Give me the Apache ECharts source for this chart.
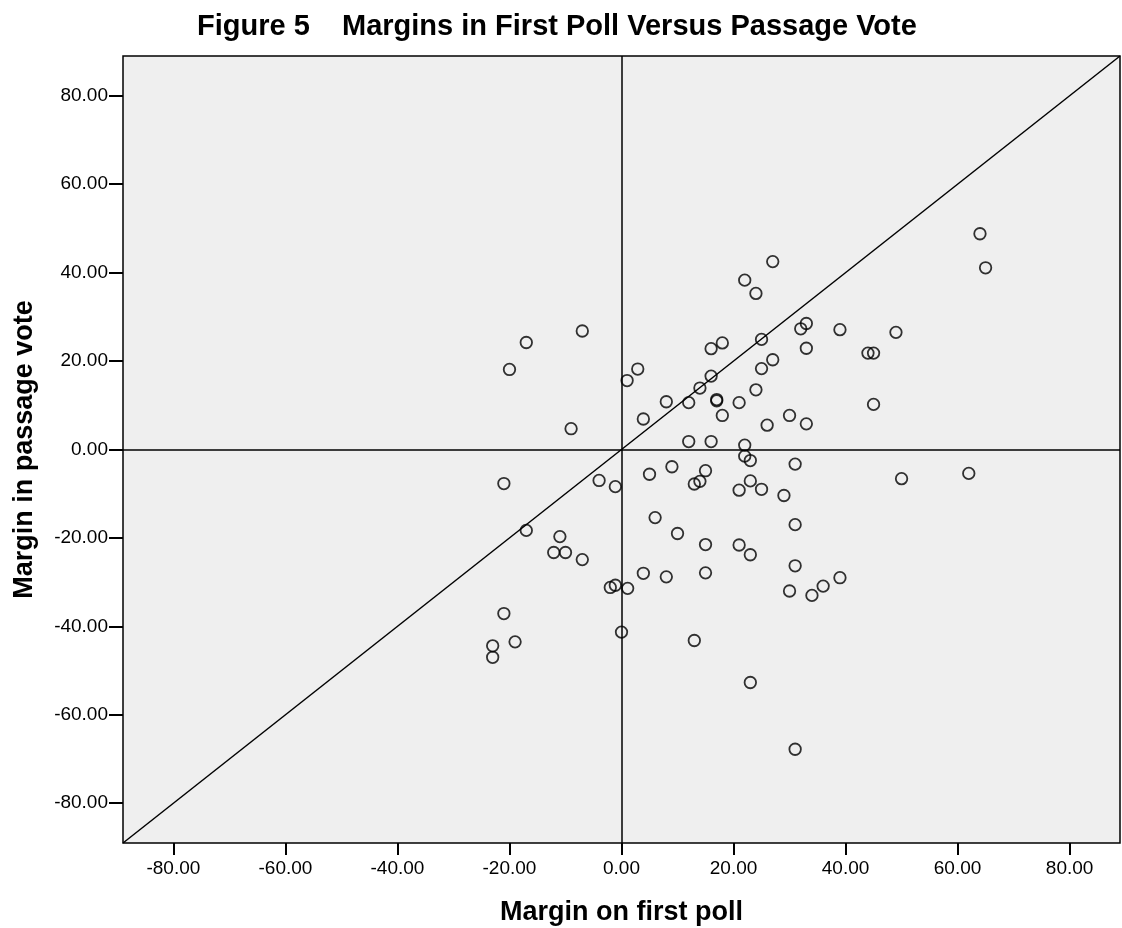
<!DOCTYPE html>
<html>
<head>
<meta charset="utf-8">
<script src="https://cdn.jsdelivr.net/npm/echarts@6/dist/echarts.min.js"></script>
<style>
  html, body { margin: 0; padding: 0; background: #ffffff; }
  #chart { width: 1122px; height: 928px; }
</style>
</head>
<body>
<div id="chart"></div>
<script>
// Margin on first poll (x) and margin in the passage vote (y), one entry per case
const firstPollMargin = [
  -7.0, -17.0, -20.0, -9.0, -21.0, -4.0, -1.1, -17.0, -11.0, -12.1,
  -10.0, -7.0, -2.0, -1.1, -21.0, -19.0, -23.0, -23.0, 0.0, 1.1,
  3.9, 1.0, 2.9, 3.9, 27.0, 22.0, 24.0, 32.0, 33.0, 25.0,
  18.0, 16.0, 27.0, 25.0, 16.0, 14.0, 24.0, 8.0, 12.0, 17.0,
  17.0, 21.0, 18.0, 30.0, 26.0, 12.0, 16.0, 22.0, 22.0, 23.0,
  31.0, 5.0, 9.0, 15.0, 14.0, 13.0, 23.0, 21.0, 25.0, 29.0,
  6.0, 10.0, 15.0, 21.0, 23.0, 31.0, 8.0, 15.0, 31.0, 30.0,
  13.0, 23.0, 65.0, 64.0, 39.0, 49.0, 33.0, 44.0, 45.0, 45.0,
  33.0, 50.0, 62.0, 34.0, 36.0, 39.0, 31.0
];
const passageVoteMargin = [
  26.8, 24.2, 18.1, 4.7, -7.7, -7.0, -8.4, -18.3, -19.7, -23.3,
  -23.3, -24.9, -31.2, -30.7, -37.1, -43.5, -44.4, -47.0, -41.3, -31.4,
  -28.0, 15.6, 18.2, 6.9, 42.5, 38.3, 35.3, 27.3, 28.5, 24.9,
  24.1, 22.8, 20.3, 18.3, 16.6, 13.9, 13.5, 10.8, 10.6, 11.3,
  11.0, 10.6, 7.7, 7.7, 5.5, 1.8, 1.8, 1.0, -1.5, -2.5,
  -3.3, -5.6, -3.9, -4.8, -7.2, -7.8, -7.1, -9.2, -9.0, -10.4,
  -15.4, -19.0, -21.5, -21.6, -23.8, -17.0, -28.8, -27.9, -26.3, -32.0,
  -43.2, -52.7, 41.1, 48.8, 27.1, 26.5, 22.9, 21.8, 21.8, 10.2,
  5.8, -6.6, -5.4, -33.0, -30.9, -29.0, -67.8
];

// Axis extent and labelled tick values
const axisMin = -89;
const axisMax = 89;
const tickValues = [-80, -60, -40, -20, 0, 20, 40, 60, 80];
// Equal-margin diagonal (y = x) across the full axis extent
const diagonalEnds = [axisMin, axisMax];

const points = firstPollMargin.map((x, i) => [x, passageVoteMargin[i]]);

const FONT = 'Liberation Sans, Arial, Helvetica, sans-serif';

function makeAxis(name, nameGap, tickLen, labelMargin) {
  return {
    type: 'value',
    min: axisMin,
    max: axisMax,
    name: name,
    nameLocation: 'middle',
    nameGap: nameGap,
    nameTextStyle: { fontFamily: FONT, fontWeight: 'bold', fontSize: 27, color: '#000' },
    axisLine: { show: false, onZero: false },
    axisTick: {
      show: true,
      length: tickLen,
      inside: false,
      customValues: tickValues,
      lineStyle: { color: '#000', width: 2 }
    },
    axisLabel: {
      customValues: tickValues,
      formatter: v => v.toFixed(2),
      margin: labelMargin,
      fontFamily: FONT,
      fontSize: 19,
      color: '#000'
    },
    splitLine: { show: false }
  };
}

const chart = echarts.init(document.getElementById('chart'), null, { renderer: 'canvas' });
chart.setOption({
  backgroundColor: '#ffffff',
  animation: false,
  title: {
    text: 'Figure 5    Margins in First Poll Versus Passage Vote',
    left: 192,
    top: 7,
    textStyle: { fontFamily: FONT, fontWeight: 'bold', fontSize: 29, color: '#000' }
  },
  grid: {
    left: 123,
    right: 2,
    top: 56,
    bottom: 85,
    outerBoundsMode: 'none',
    containLabel: false,
    show: true,
    backgroundColor: '#efefef',
    borderColor: '#000',
    borderWidth: 1.5
  },
  xAxis: makeAxis('Margin on first poll', 56, 12, 16),
  yAxis: makeAxis('Margin in passage vote', 85, 14, 15),
  series: [
    {
      type: 'line',
      data: diagonalEnds.map(v => [v, v]),
      symbol: 'none',
      lineStyle: { color: '#000', width: 1.5 },
      silent: true,
      z: 2
    },
    {
      type: 'scatter',
      data: points,
      symbol: 'circle',
      symbolSize: 11.5,
      itemStyle: { color: 'rgba(0,0,0,0)', borderColor: '#000', borderWidth: 1.8 },
      z: 3,
      markLine: {
        silent: true,
        symbol: 'none',
        label: { show: false },
        lineStyle: { color: '#000', width: 1.5, type: 'solid' },
        data: [{ xAxis: 0 }, { yAxis: 0 }]
      }
    }
  ]
});
</script>
</body>
</html>
